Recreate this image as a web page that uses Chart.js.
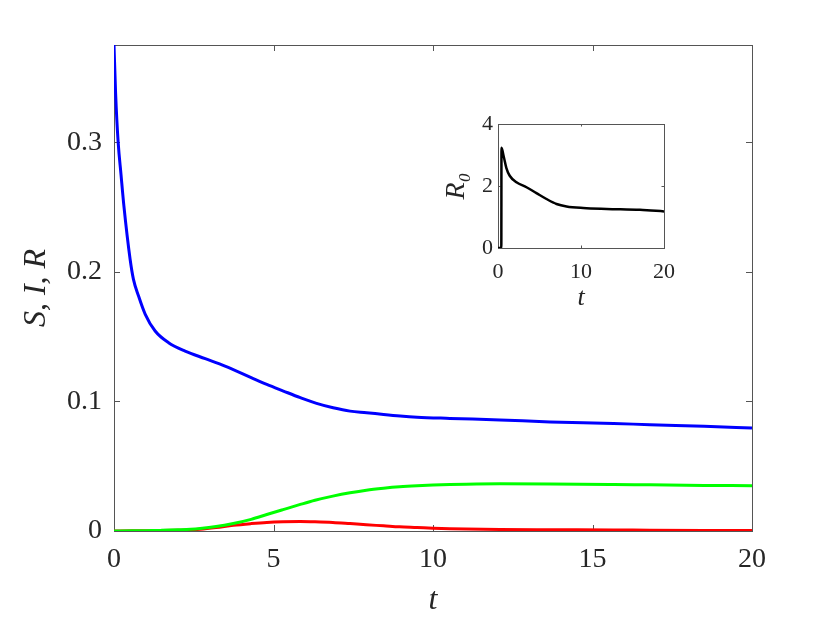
<!DOCTYPE html>
<html>
<head>
<meta charset="utf-8">
<script src="https://cdn.jsdelivr.net/npm/chart.js@4.4.1/dist/chart.umd.min.js"></script>
<style>
  html, body { margin: 0; padding: 0; background: #fff; }
  #wrap { position: relative; width: 830px; height: 623px; }
  #mainChart { position: absolute; left: 0; top: 0; }
  #insetChart { position: absolute; left: 430px; top: 100px; }
</style>
</head>
<body>
<div id="wrap">
  <canvas id="mainChart" width="830" height="623"></canvas>
  <canvas id="insetChart" width="256" height="220"></canvas>
</div>
<script>
// main panel: S (own time grid, dense near t=0), I and R against t
const sTimes = [0, 0.05, 0.13, 0.22, 0.31, 0.505, 0.61, 0.77, 0.98, 1.29, 1.71, 2.23, 2.86, 3.48, 4.3, 4.79, 5.31, 5.84, 6.35, 6.87, 7.4, 7.92, 8.45, 8.97, 9.5, 10.53, 12.1, 13.67, 15.66, 16.8, 18.5, 20];
const sValues = [0.375, 0.338, 0.300, 0.275, 0.2508, 0.2097, 0.1942, 0.1813, 0.1672, 0.1543, 0.1453, 0.1388, 0.1330, 0.1273, 0.1184, 0.1131, 0.1080, 0.1029, 0.0985, 0.0951, 0.0925, 0.0913, 0.0899, 0.0887, 0.0878, 0.0869, 0.0857, 0.0842, 0.0830, 0.0820, 0.0808, 0.0794];
const tValues = [0, 0.57, 0.89, 1.2, 1.5, 2, 2.4, 2.7, 3.2, 3.74, 4.3, 4.79, 5.3, 5.84, 6.3, 6.86, 7.4, 7.91, 8.45, 8.95, 9.5, 10, 10.53, 11.04, 12.1, 13.67, 15.66, 16.8, 18.5, 20];
const iValues = [0, 0.0001, 0.0001, 0.0002, 0.0003, 0.0006, 0.0009, 0.0013, 0.0026, 0.0044, 0.0057, 0.0066, 0.0071, 0.0073, 0.0071, 0.0066, 0.0057, 0.0048, 0.0040, 0.0032, 0.0027, 0.0022, 0.0018, 0.0015, 0.0012, 0.0010, 0.0008, 0.0006, 0.0004, 0.0003];
const rValues = [0, 0.0001, 0.0002, 0.0003, 0.0005, 0.0009, 0.0013, 0.0019, 0.0034, 0.0058, 0.0090, 0.0127, 0.0165, 0.0205, 0.0237, 0.0269, 0.0295, 0.0315, 0.0330, 0.0341, 0.0349, 0.0354, 0.0358, 0.0361, 0.0364, 0.0363, 0.0359, 0.0356, 0.0352, 0.0349];
const xTicks = [0, 5, 10, 15, 20];
const yTicks = [0, 0.1, 0.2, 0.3];

// inset: R0 against t
const insetT = [0, 0.40, 0.42, 0.69, 1.01, 1.41, 2.22, 3.43, 4.63, 5.84, 7.05, 8.26, 10.26, 13.08, 17.1, 20];
const insetR0 = [0, 0, 3.23, 2.95, 2.58, 2.33, 2.12, 1.96, 1.77, 1.58, 1.42, 1.34, 1.29, 1.26, 1.23, 1.18];
const insetXTicks = [0, 10, 20];
const insetYTicks = [0, 2, 4];

const textColor = '#262626';
const serif = "'Liberation Serif', 'DejaVu Serif', serif";

// box round the plot area, with tick marks pointing inwards on all four sides
const boxTicks = {
    id: 'boxTicks',
    beforeDatasetsDraw(chart, args, opts) {
        const { ctx, chartArea: a, scales } = chart;
        ctx.save();
        ctx.strokeStyle = opts.color;
        ctx.lineWidth = 1;
        ctx.beginPath();
        scales.x.ticks.forEach(t => {
            const px = Math.round(scales.x.getPixelForValue(t.value)) + 0.5;
            ctx.moveTo(px, a.bottom); ctx.lineTo(px, a.bottom - opts.len);
            ctx.moveTo(px, a.top); ctx.lineTo(px, a.top + opts.len);
        });
        scales.y.ticks.forEach(t => {
            const py = Math.round(scales.y.getPixelForValue(t.value)) + 0.5;
            ctx.moveTo(a.left, py); ctx.lineTo(a.left + opts.len, py);
            ctx.moveTo(a.right, py); ctx.lineTo(a.right - opts.len, py);
        });
        ctx.stroke();
        ctx.strokeRect(Math.round(a.left) + 0.5, Math.round(a.top) + 0.5, Math.round(a.width), Math.round(a.height));
        ctx.restore();
    }
};

function points(xs, ys) {
    return xs.map((x, i) => ({ x: x, y: ys[i] }));
}

function lineSet(xs, ys, color, width, order) {
    return {
        data: points(xs, ys),
        borderColor: color,
        borderWidth: width,
        pointRadius: 0,
        fill: false,
        cubicInterpolationMode: 'monotone',
        order: order
    };
}

new Chart(document.getElementById('mainChart').getContext('2d'), {
    type: 'line',
    data: {
        datasets: [
            lineSet(tValues, rValues, '#00ff00', 3, 0),
            lineSet(tValues, iValues, '#ff0000', 3, 1),
            lineSet(sTimes, sValues, '#0000ff', 3, 2)
        ]
    },
    options: {
        responsive: false,
        animation: false,
        devicePixelRatio: 1,
        layout: { padding: { left: 0, top: 45, right: 78, bottom: 0 } },
        plugins: {
            legend: { display: false },
            tooltip: { enabled: false },
            boxTicks: { len: 6, color: '#555' }
        },
        scales: {
            x: {
                type: 'linear',
                min: 0,
                max: 20,
                afterBuildTicks: axis => { axis.ticks = xTicks.map(v => ({ value: v })); },
                afterFit: axis => { axis.height = 92; },
                grid: { display: false, drawTicks: false },
                border: { display: false },
                ticks: { color: textColor, padding: 12, maxRotation: 0, font: { family: serif, size: 28 }, callback: v => String(v) },
                title: { display: true, text: 't', color: textColor, padding: { top: 0, bottom: 3 }, font: { family: serif, size: 32, style: 'italic' } }
            },
            y: {
                type: 'linear',
                min: 0,
                max: 0.375,
                afterBuildTicks: axis => { axis.ticks = yTicks.map(v => ({ value: v })); },
                afterFit: axis => { axis.width = 114; },
                grid: { display: false, drawTicks: false },
                border: { display: false },
                ticks: { color: textColor, padding: 12, font: { family: serif, size: 28 }, callback: v => String(v) },
                title: { display: true, text: 'S, I, R', color: textColor, padding: { top: 17, bottom: 0 }, font: { family: serif, size: 32, style: 'italic' } }
            }
        }
    },
    plugins: [boxTicks]
});

new Chart(document.getElementById('insetChart').getContext('2d'), {
    type: 'line',
    data: {
        datasets: [lineSet(insetT, insetR0, '#000000', 2.5, 0)]
    },
    options: {
        responsive: false,
        animation: false,
        devicePixelRatio: 1,
        layout: { padding: { left: 0, top: 24, right: 10, bottom: 0 } },
        plugins: {
            legend: { display: false },
            tooltip: { enabled: false },
            boxTicks: { len: 2.5, color: '#555' }
        },
        scales: {
            x: {
                type: 'linear',
                min: 0,
                max: 20,
                afterBuildTicks: axis => { axis.ticks = insetXTicks.map(v => ({ value: v })); },
                afterFit: axis => { axis.height = 72; },
                grid: { display: false, drawTicks: false },
                border: { display: false },
                ticks: { color: textColor, padding: 11, maxRotation: 0, font: { family: serif, size: 22 }, callback: v => String(v) },
                title: { display: true, text: 't', color: textColor, padding: { top: 0, bottom: 6 }, font: { family: serif, size: 26, style: 'italic' } }
            },
            y: {
                type: 'linear',
                min: 0,
                max: 4,
                afterBuildTicks: axis => { axis.ticks = insetYTicks.map(v => ({ value: v })); },
                afterFit: axis => { axis.width = 68; },
                grid: { display: false, drawTicks: false },
                border: { display: false },
                ticks: { color: textColor, padding: 5, font: { family: serif, size: 22 }, callback: v => String(v) },
                title: { display: true, text: 'R₀', color: textColor, padding: { top: 10, bottom: 0 }, font: { family: serif, size: 28, style: 'italic' } }
            }
        }
    },
    plugins: [boxTicks]
});
</script>
</body>
</html>
